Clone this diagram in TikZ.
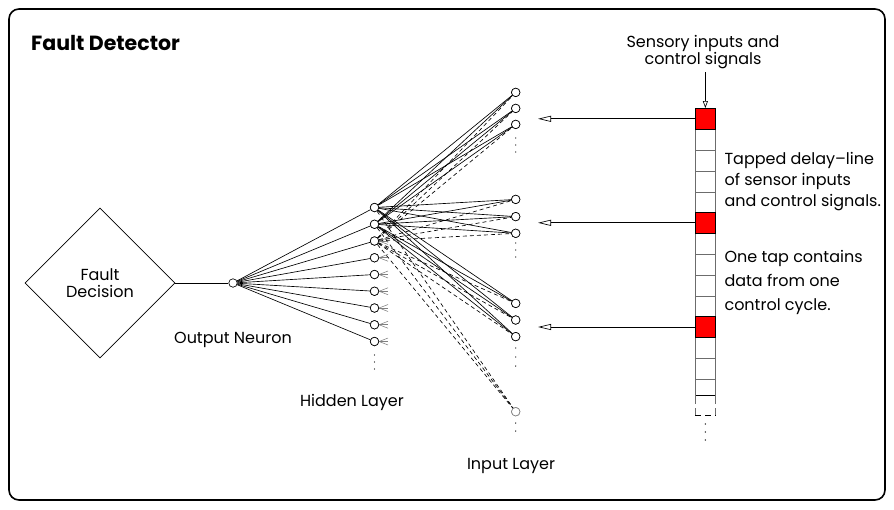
\documentclass[tikz,border=0pt]{standalone}
\usepackage{fontspec}
\setmainfont{Poppins}
\usetikzlibrary{arrows.meta,shapes.geometric}
\begin{document}
\begin{tikzpicture}[x=1pt,y=-1pt,
  neuron/.style={circle,draw,fill=white,minimum size=8.5pt,inner sep=0pt,line width=0.65pt},
  conn/.style={line width=0.65pt},
  dconn/.style={line width=0.65pt,dash pattern=on 4pt off 3pt},
  stub/.style={gray,line width=0.55pt},
  lbl/.style={font=\fontsize{16}{20}\selectfont},
  celld/.style={draw=gray!85!black,line width=0.7pt},
  redcell/.style={draw=black,fill=red,minimum width=20.7pt,minimum height=20.8pt,inner sep=0pt,line width=0.65pt},
  tap/.style={-{Triangle[open,length=13pt,width=6pt]},line width=0.65pt},
  feed/.style={-{Triangle[open,length=7pt,width=5pt]},line width=0.65pt},
  dotmark/.style={fill=black},
]
\useasboundingbox (0,0) rectangle (894,509);
% frame
\draw[line width=1.6pt,rounded corners=10pt] (9,9) rectangle (885,500);
\node[anchor=base west,font=\bfseries\fontsize{20.5}{24}\selectfont,inner sep=0pt] (title) at (31,50) {Fault Detector};

% decision
\node[diamond,draw,minimum size=150pt,inner sep=0pt,line width=0.65pt,align=center,font=\fontsize{16}{17}\selectfont] (fd) at (100,283) {Fault\\Decision};

% output neuron
\node[neuron] (o) at (233,283) {};
\draw[conn] (fd.east) -- (o);
\node[lbl] (olbl) at (233,340) {Output Neuron};

% hidden layer
\foreach \k/\y in {1/207.5,2/224.25,3/241,4/257.75,5/274.5,6/291.25,7/308,8/324.75,9/341.5}
  \node[neuron] (h\k) at (374.5,\y) {};
\foreach \y in {355,362,369} \fill[dotmark] (374.5,\y) circle (0.7);
\node[lbl] (hlbl) at (352,402) {Hidden Layer};

% input layer
\foreach \k/\y in {1/92.4,2/108.4,3/124.4,4/199.4,5/216.6,6/233.3,7/303.4,8/320,9/336.6}
  \node[neuron] (i\k) at (515.7,\y) {};
\node[neuron,draw=gray] (i10) at (515.7,411.7) {};
\foreach \y in {138,145,152, 243,250,257, 348,357,366, 423,431}
  \fill[dotmark] (515.7,\y) circle (0.7);
\node[lbl] (ilbl) at (511,466) {Input Layer};

% output -> hidden
\foreach \k in {1,...,9} \draw[conn] (o) -- (h\k);

% hidden -> input connections
\foreach \k in {1,...,9} {
  \draw[conn] (h1) -- (i\k);
  \draw[conn] (h2) -- (i\k);
  \draw[dconn] (h3) -- (i\k);
}
\draw[dconn] (h1) -- (i10);
\draw[dconn] (h2) -- (i10);
\draw[dconn] (h3) -- (i10);
\foreach \k in {1,...,9} \node[neuron] at (h\k) {};
\foreach \k in {1,...,9} \node[neuron] at (i\k) {};
\node[neuron,draw=gray] at (i10) {};

% stubs on remaining hidden nodes
\foreach \k in {3,...,9} {
  \draw[stub] (h\k.east) -- ++(9,-3.5);
  \draw[stub] (h\k.east) -- ++(9,0);
  \draw[stub] (h\k.east) -- ++(9,3.5);
}

% delay line
\foreach \a/\b in {129.3/150,150/171,171/192,192/212.3,233.3/254,254/275,275/296,296/316.7,337.3/358.3,358.3/379,379/395}
  \draw[celld] (695,\a) rectangle (715.7,\b);
\draw[line width=0.7pt] (695,395) -- (715.7,395);
\draw[celld,dash pattern=on 9pt off 4pt] (695,395) -- (695,415);
\draw[celld,dash pattern=on 9pt off 4pt] (715.7,395) -- (715.7,415);
\draw[line width=0.65pt,dash pattern=on 6pt off 4pt] (695,415) -- (715.7,415);
\foreach \y in {424,432,440} \fill[dotmark] (705.3,\y) circle (0.7);

\node[redcell] (r1) at (705.35,118.8) {};
\node[redcell] (r2) at (705.35,222.8) {};
\node[redcell] (r3) at (705.35,327) {};

\coordinate (a1) at (538,118.8);
\coordinate (a2) at (538,222.8);
\coordinate (a3) at (538,327);
\draw[tap] (r1.west) -- (a1);
\draw[tap] (r2.west) -- (a2);
\draw[tap] (r3.west) -- (a3);

\node[align=center,font=\fontsize{16}{15.5}\selectfont] (sens) at (703,52) {Sensory inputs and\\control signals};
\coordinate (s0) at (705.35,72);
\draw[feed] (s0) -- (r1.north);

\node[align=left,anchor=north west,font=\fontsize{16}{21}\selectfont] (tdl) at (721,149) {Tapped delay--line\\of sensor inputs\\and control signals.};
\node[align=left,anchor=north west,font=\fontsize{16}{24}\selectfont] (tap1) at (721,247) {One tap contains\\data from one\\control cycle.};
\end{tikzpicture}
\end{document}
